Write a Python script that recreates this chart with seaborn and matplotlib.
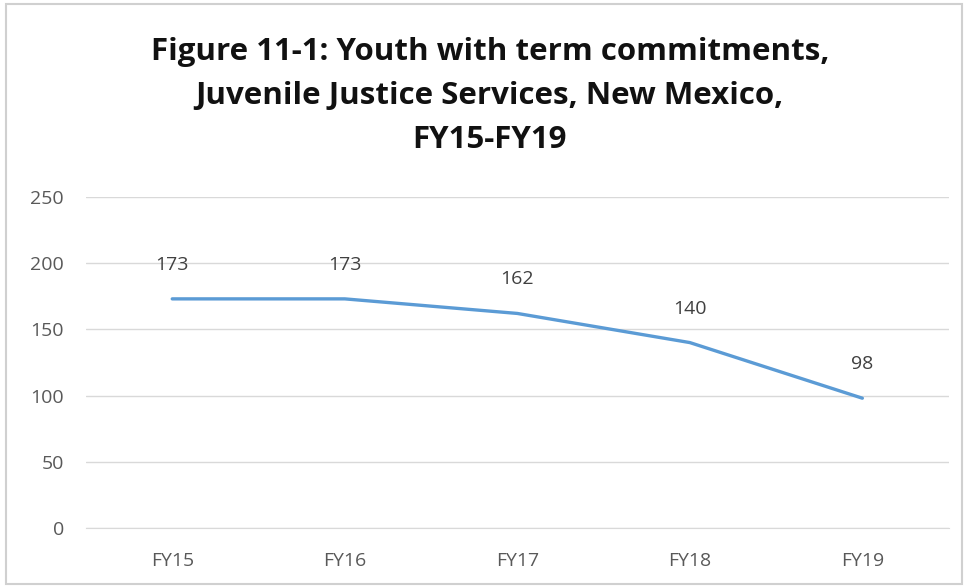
import matplotlib
matplotlib.use("Agg")
import matplotlib.pyplot as plt
import seaborn as sns
import pandas as pd
from matplotlib.patches import Rectangle

years = ["FY15", "FY16", "FY17", "FY18", "FY19"]
youth = [173, 173, 162, 140, 98]
yticks = [0, 50, 100, 150, 200, 250]

df = pd.DataFrame({"Year": years, "Youth": youth})

sns.set_style("white")
plt.rcParams["font.family"] = ["Open Sans", "DejaVu Sans"]

fig = plt.figure(figsize=(9.66, 5.86), dpi=100)
ax = fig.add_axes([0.089, 0.099, 0.893, 0.565])

sns.lineplot(data=df, x="Year", y="Youth", color="#5B9BD5", linewidth=2.4,
             sort=False, ax=ax)

for i, v in enumerate(youth):
    ax.annotate(str(v), (i, v), xytext=(0, 18), textcoords="offset points",
                ha="center", va="bottom", fontsize=14, color="#404040")

ax.set_xlim(-0.5, 4.5)
ax.set_ylim(0, 250)
ax.set_yticks(yticks)
ax.yaxis.grid(True, color="#d9d9d9", linewidth=1)
ax.set_axisbelow(True)
for s in ["top", "right", "left"]:
    ax.spines[s].set_visible(False)
ax.spines["bottom"].set_color("#d9d9d9")
ax.tick_params(axis="both", length=0, labelsize=14, labelcolor="#595959")
ax.tick_params(axis="x", pad=17)
ax.tick_params(axis="y", pad=16)
ax.set_xlabel("")
ax.set_ylabel("")

fig.text(0.507, 0.836, "Figure 11-1: Youth with term commitments,\nJuvenile Justice Services, New Mexico,\nFY15-FY19",
         ha="center", va="center", fontsize=22.5, fontweight="bold", color="#111111",
         linespacing=1.62)

fig.patches.append(Rectangle((0.006, 0.004), 0.99, 0.989, transform=fig.transFigure,
                             fill=False, edgecolor="#d0d0d0", linewidth=1.5))

fig.savefig("out.png", dpi=100)
